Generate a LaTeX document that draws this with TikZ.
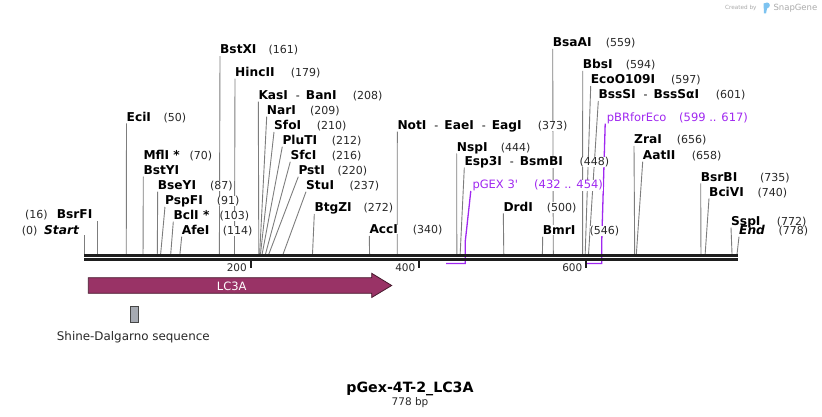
\documentclass[tikz,border=0pt]{standalone}
\usepackage{fontspec}
\setmainfont{DejaVu Sans}
\usetikzlibrary{calc}
\pgfdeclarelayer{background}
\pgfsetlayers{background,main}
\definecolor{enzgray}{RGB}{125,125,125}
\definecolor{primer}{RGB}{160,40,240}
\definecolor{lcfill}{RGB}{153,51,102}
\definecolor{lcdraw}{RGB}{70,25,45}
\definecolor{sdfill}{RGB}{166,170,178}
\definecolor{numcol}{RGB}{40,40,40}
\definecolor{logogray}{RGB}{170,170,170}
\definecolor{logoblue}{RGB}{125,195,240}
\newcommand\fname{\fontsize{12.2}{14}\selectfont\bfseries}
\newcommand\fnumb{\fontsize{11}{13}\selectfont}
\newcommand\dsh{\hspace{8pt}{\mdseries\fontsize{11}{13}\selectfont -}\hspace{6pt}}
\tikzset{
  enzname/.style={anchor=base west, inner xsep=0pt, inner ysep=0.3pt, fill=white, font=\fname},
  enznum/.style={anchor=base west, inner xsep=0pt, inner ysep=0.3pt, fill=white, font=\fnumb, text=numcol},
  enzline/.style={draw=enzgray, line width=0.9pt},
  primerlab/.style={anchor=base west, inner xsep=0pt, inner ysep=0.3pt, fill=white, font=\fontsize{11.5}{13}\selectfont, text=primer},
  primerline/.style={draw=primer, line width=1.3pt},
  mainline/.style={draw={rgb,255:red,30;green,30;blue,30}, line width=2.8pt},
  tickmark/.style={draw={rgb,255:red,30;green,30;blue,30}, line width=1.8pt},
  ticklab/.style={anchor=base east, inner sep=0pt, font=\fontsize{10.5}{12}\selectfont, text=numcol},
}
\newcommand\enzlab[6]{%
  \node[enzname] (n#1) at (#2,{#3+4.4}) {#4};
  \node[enznum] (u#1) at (#5,{#3+4.4}) {#6};}
\newcommand\enzline[2]{%
  \coordinate (s#1) at ({84.3+0.839*#2},254);
  \begin{pgfonlayer}{background}
  \draw[enzline] (s#1) -- ($(n#1.base west)+(0,2.3)$);
  \end{pgfonlayer}}
\newcommand\renz[7]{\enzlab{#1}{#3}{#4}{#5}{#6}{#7}\enzline{#1}{#2}}
\begin{document}
\begin{tikzpicture}[x=1pt,y=-1pt]
\useasboundingbox (0,0) rectangle (822,417);
% enzyme labels
\renz{eci}{50}{126.5}{116.7}{EciI}{163.3}{(50)}
\enzlab{mfl}{143.3}{155}{MflI *}{189.3}{(70)}
\node[enzname] (nbsty) at (143.3,174.4) {BstYI};
\enzline{bsty}{70}
\renz{bsey}{87}{157.7}{185}{BseYI}{210}{(87)}
\renz{pspf}{91}{165}{200}{PspFI}{216.7}{(91)}
\renz{bcl}{103}{173.3}{215}{BclI *}{219.3}{(103)}
\renz{afe}{114}{181.7}{230}{AfeI}{222.7}{(114)}
\renz{bstx}{161}{220}{49.5}{BstXI}{268.3}{(161)}
\renz{hinc}{179}{235}{72}{HincII}{290.7}{(179)}
\renz{kas}{208}{258.3}{95}{KasI\dsh BanI}{352.7}{(208)}
\renz{nar}{209}{266.7}{110}{NarI}{310}{(209)}
\renz{sfo}{210}{274}{125.3}{SfoI}{316.7}{(210)}
\renz{plu}{212}{282.3}{140}{PluTI}{331.7}{(212)}
\renz{sfc}{216}{290.3}{155}{SfcI}{331.7}{(216)}
\renz{pst}{220}{298.3}{170}{PstI}{337.3}{(220)}
\renz{stu}{237}{306}{185}{StuI}{349.3}{(237)}
\renz{btg}{272}{314.3}{207.3}{BtgZI}{363.3}{(272)}
\renz{acc}{340}{369.3}{229.3}{AccI}{412.7}{(340)}
\renz{not}{373}{397.3}{125}{NotI\dsh EaeI\dsh EagI}{537.7}{(373)}
\renz{nsp}{444}{456.7}{146.7}{NspI}{500.7}{(444)}
\renz{esp}{448}{464.3}{161}{Esp3I\dsh BsmBI}{579.3}{(448)}
\renz{drd}{500}{503.3}{206.7}{DrdI}{546.7}{(500)}
\renz{bmr}{546}{542.7}{230}{BmrI}{589.3}{(546)}
\renz{bsaa}{559}{552.7}{42.3}{BsaAI}{605.7}{(559)}
\renz{bbs}{594}{582.7}{64.3}{BbsI}{625.7}{(594)}
\renz{eco}{597}{590.7}{79.3}{EcoO109I}{671}{(597)}
\renz{bsss}{601}{598.3}{94.3}{BssSI\dsh BssSαI}{715.7}{(601)}
\renz{zra}{656}{634}{139.3}{ZraI}{676.7}{(656)}
\renz{aat}{658}{642.7}{155}{AatII}{691.7}{(658)}
\renz{bsrb}{735}{700.7}{176.7}{BsrBI}{760}{(735)}
\renz{bci}{740}{709}{191.7}{BciVI}{757.3}{(740)}
% SspI and End sit close together: no white fill
\node[enzname, fill=none] (nssp) at (731,225.2) {SspI};
\node[enznum, fill=none] (ussp) at (776.7,225.2) {(772)};
\enzline{ssp}{772}
\node[enzname, fill=none] (nfin) at (739,234.4) {\textit{End}};
\node[enznum, fill=none] (ufin) at (778.3,234.4) {(778)};
\enzline{fin}{778}
% left-side labels
\node[enzname] (nbsrf) at (56.7,218.7) {BsrFI};
\node[enznum] (ubsrf) at (25,218.7) {(16)};
\coordinate (sbsrf) at ({84.3+0.839*16},254);
\coordinate (tbsrf) at ({84.3+0.839*16},221);
\node[enzname] (nstart) at (44,234.4) {\textit{Start}};
\node[enznum] (ustart) at (21.7,234.4) {(0)};
\coordinate (sstart) at (84.3,254);
\coordinate (tstart) at (84.3,235);
\begin{pgfonlayer}{background}
\draw[enzline] (sbsrf) -- (tbsrf);
\draw[enzline] (sstart) -- (tstart);
\end{pgfonlayer}
% primers
\node[primerlab] (npg) at (472.3,189) {pGEX 3\textquotesingle};
\node[primerlab] (upg) at (534,189) {(432 .. 454)};
\coordinate (pg1) at (446,263.5);
\coordinate (pg2) at (465.2,263.5);
\coordinate (pg3) at (465.2,242);
\node[primerlab] (npb) at (606.7,121.6) {pBRforEco};
\node[primerlab] (upb) at (679,121.6) {(599 .. 617)};
\coordinate (pb1) at (585.7,263.5);
\coordinate (pb2) at (601.7,263.5);
\coordinate (pb3) at (601.7,243);
\begin{pgfonlayer}{background}
\draw[primerline] (pg1) -- (pg2) -- (pg3) -- ($(npg.base west)+(-1.5,2)$);
\draw[primerline] (pb1) -- (pb2) -- (pb3) -- ($(npb.base west)+(-1.5,2)$);
\end{pgfonlayer}
% main sequence line
\coordinate (m0a) at (84,255.5);
\coordinate (m1a) at (737.5,255.5);
\coordinate (m0b) at (84,259.7);
\coordinate (m1b) at (737.5,259.7);
\draw[mainline] (m0a) -- (m1a);
\draw[mainline] (m0b) -- (m1b);
% ticks
\draw[tickmark] (250.7,261) -- (250.7,268);
\draw[tickmark] (419.3,261) -- (419.3,268);
\draw[tickmark] (585.7,261) -- (585.7,268);
\node[ticklab] (t200) at (247,271.5) {200};
\node[ticklab] (t400) at (415.5,271.5) {400};
\node[ticklab] (t600) at (582.5,271.5) {600};
% LC3A feature
\path[fill=lcfill, draw=lcdraw, line width=0.8pt]
  (88.3,277.7) -- (371.7,277.7) -- (371.7,273.3) -- (391.7,285.5)
  -- (371.7,297.5) -- (371.7,293.3) -- (88.3,293.3) -- cycle;
\node[anchor=base, inner sep=0pt, text=white, font=\fontsize{11.5}{13}\selectfont] (lc3a) at (231.7,290) {LC3A};
% Shine-Dalgarno
\node[draw={rgb,255:red,70;green,70;blue,70}, fill=sdfill, line width=0.8pt, minimum width=8pt, minimum height=15.6pt, inner sep=0pt] (sdbox) at (134.7,314.5) {};
\node[anchor=base, inner sep=0pt, font=\fontsize{11.9}{14}\selectfont, text=numcol] (sdlab) at (133.3,340) {Shine-Dalgarno sequence};
% title
\node[anchor=base, inner sep=0pt, font=\fontsize{14.2}{16}\selectfont\bfseries] (title) at (410,392.5) {pGex-4T-2\_LC3A};
\node[anchor=base, inner sep=0pt, font=\fontsize{10.5}{12}\selectfont, text=numcol] (bplen) at (410,405.5) {778 bp};
% SnapGene credit
\node[anchor=base west, inner sep=0pt, font=\fontsize{5.7}{7}\selectfont, text=logogray] (credit) at (725,10) {Created by};
\fill[logoblue] (763.5,3.5) -- (767,2.5) .. controls (770.5,2.5) and (771,7.5) .. (767,8.5) -- (766,13.5) -- (764,13.5) -- cycle;
\node[anchor=base west, inner sep=0pt, font=\fontsize{8.5}{10}\selectfont, text=logogray] (snapgene) at (773.3,11) {SnapGene};
\end{tikzpicture}
\end{document}
